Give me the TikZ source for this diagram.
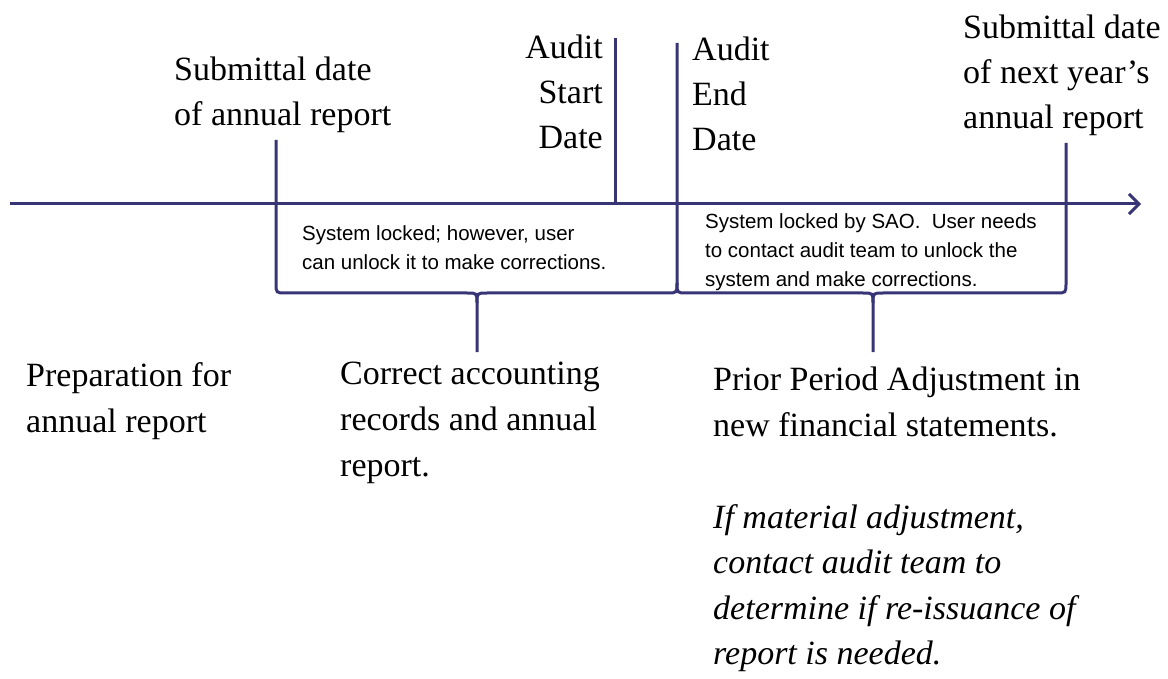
\documentclass[tikz,border=0pt]{standalone}
\usepackage{fontspec}
\setmainfont{Liberation Serif}
\setsansfont{Liberation Sans}
\usetikzlibrary{arrows.meta,positioning}
\definecolor{timelineblue}{RGB}{56,53,118}

\begin{document}
\begin{tikzpicture}[x=1pt, y=-1pt,
    timeline/.style={draw=timelineblue, line width=3pt},
    datelabel/.style={inner sep=0pt, font=\fontsize{34}{45}\selectfont},
    phaselabel/.style={inner sep=0pt, align=left, anchor=north west, font=\fontsize{34}{46}\selectfont},
    locknote/.style={inner sep=0pt, align=left, anchor=north west, font=\sffamily\fontsize{20.5}{29}\selectfont}
]
\useasboundingbox (0,0) rectangle (1168,679);

% Timeline points
\coordinate (tl start) at (10,204);
\coordinate (tl end) at (1141,204);
\coordinate (submit) at (276,140);
\coordinate (astart) at (615,38);
\coordinate (aend) at (677,43);
\coordinate (nextsubmit) at (1066,143);
\coordinate (tip1) at (477,352);
\coordinate (tip2) at (873,352);

\draw[timeline, -{Straight Barb[length=10pt,width=20pt]}] (tl start) -- (tl end);
\draw[timeline] (astart) -- (astart |- tl start);

% Braces
\draw[timeline] (submit) -- (276,283) .. controls (276,293) .. (286,293) -- (467,293)
    .. controls (477,293) .. (477,303) -- (tip1);
\draw[timeline] (477,303) .. controls (477,293) .. (487,293) -- (667,293)
    .. controls (677,293) .. (677,283) -- (aend);
\draw[timeline] (677,283) .. controls (677,293) .. (687,293) -- (863,293)
    .. controls (873,293) .. (873,303) -- (tip2);
\draw[timeline] (873,303) .. controls (873,293) .. (883,293) -- (1056,293)
    .. controls (1066,293) .. (1066,283) -- (nextsubmit);

% Dates
\node[datelabel, align=left, anchor=north west] (submit label) at (174,57) {Submittal date\\of annual report};
\node[datelabel, align=right, anchor=north east] (astart label) at (603,35) {Audit\\Start\\Date};
\node[datelabel, align=left, anchor=north west] (aend label) at (692,37) {Audit\\End\\Date};
\node[datelabel, align=left, anchor=north west] (next label) at (963,15) {Submittal date\\of next year’s\\annual report};

% Lock notes
\node[locknote] (lock1) at (302,225) {System locked; however, user\\can unlock it to make corrections.};
\node[locknote] (lock2) at (705,213) {System locked by SAO.\ \ User needs\\to contact audit team to unlock the\\system and make corrections.};

% Phases
\node[phaselabel] (prep) at (26,362) {Preparation for\\annual report};
\node[phaselabel] (correct) at (340,362) {Correct accounting\\records and annual\\report.};
\node[phaselabel] (prior) at (713,367) {Prior Period Adjustment in\\new financial statements.};
\node[phaselabel, font=\itshape\fontsize{34}{45.5}\selectfont] (material) at (713,504) {If material adjustment,\\contact audit team to\\determine if re-issuance of\\report is needed.};

\end{tikzpicture}
\end{document}
